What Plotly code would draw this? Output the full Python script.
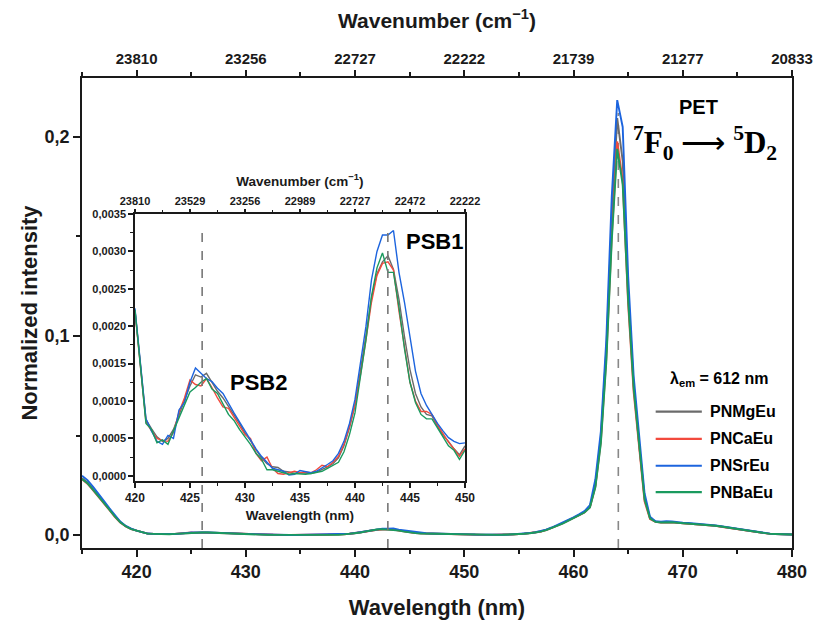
import numpy as np
import plotly.graph_objects as go

# Excitation wavelength grid (nm), 0.5 nm steps
wavelength = np.round(np.arange(415.0, 480.01, 0.5), 1)

# Normalized excitation intensities, lambda_em = 612 nm
pnmgeu = [
    0.0286, 0.0264, 0.0232, 0.0200, 0.0166, 0.0131, 0.0096, 0.0066, 0.0045, 0.0031,
    0.00222, 0.00150, 0.00075, 0.00063, 0.00052, 0.00046, 0.00050, 0.00062, 0.00082, 0.00100,
    0.00120, 0.00135, 0.00132, 0.00137, 0.00124, 0.00113, 0.00104, 0.00093, 0.00082, 0.00070,
    0.00057, 0.00047, 0.00035, 0.00024, 0.00016, 0.00012, 0.00011, 0.00006, 0.00005, 0.00003,
    0.00004, 0.00003, 0.00003, 0.00005, 0.00008, 0.00012, 0.00016, 0.00024, 0.00040, 0.00064,
    0.00094, 0.00138, 0.00188, 0.00238, 0.00270, 0.00286, 0.00294, 0.00276, 0.00236, 0.00186,
    0.00142, 0.00110, 0.00092, 0.00082, 0.00080, 0.00066, 0.00054, 0.00046, 0.00036, 0.00028,
    0.00040, 0.00030, 0.00022, 0.00016, 0.00012, 0.00010, 0.00010, 0.00012, 0.00020, 0.00030,
    0.00048, 0.00068, 0.00095, 0.0013, 0.0018, 0.0026, 0.0036, 0.0048, 0.0060, 0.0073,
    0.0086, 0.0100, 0.0116, 0.0142, 0.0250, 0.0490, 0.0930, 0.1580, 0.2095, 0.1880,
    0.1220, 0.0760, 0.0460, 0.0190, 0.0086, 0.0068, 0.0064, 0.0066, 0.0065, 0.0062,
    0.0060, 0.0059, 0.0058, 0.0056, 0.0054, 0.0051, 0.0047, 0.0043, 0.0039, 0.0035,
    0.0031, 0.0027, 0.0022, 0.0017, 0.0012, 0.0008, 0.0006, 0.0005, 0.0004, 0.0004,
    0.0003,
]
pncaeu = [
    0.0280, 0.0258, 0.0226, 0.0194, 0.0160, 0.0126, 0.0092, 0.0063, 0.0043, 0.0030,
    0.00220, 0.00145, 0.00072, 0.00060, 0.00050, 0.00047, 0.00046, 0.00058, 0.00085, 0.00104,
    0.00128, 0.00122, 0.00120, 0.00130, 0.00118, 0.00104, 0.00092, 0.00090, 0.00078, 0.00066,
    0.00055, 0.00050, 0.00030, 0.00020, 0.00025, 0.00010, 0.00003, 0.00002, 0.00004, 0.00006,
    0.00004, 0.00005, 0.00004, 0.00008, 0.00014, 0.00012, 0.00018, 0.00026, 0.00042, 0.00066,
    0.00095, 0.00135, 0.00182, 0.00232, 0.00268, 0.00284, 0.00286, 0.00275, 0.00220, 0.00175,
    0.00125, 0.00100, 0.00086, 0.00086, 0.00082, 0.00068, 0.00056, 0.00045, 0.00036, 0.00026,
    0.00036, 0.00028, 0.00020, 0.00015, 0.00011, 0.00010, 0.00011, 0.00013, 0.00019, 0.00029,
    0.00046, 0.00066, 0.00092, 0.0013, 0.0018, 0.0025, 0.0035, 0.0047, 0.0059, 0.0072,
    0.0085, 0.0098, 0.0114, 0.0140, 0.0245, 0.0470, 0.0890, 0.1500, 0.1977, 0.1780,
    0.1160, 0.0720, 0.0430, 0.0170, 0.0080, 0.0066, 0.0063, 0.0065, 0.0064, 0.0061,
    0.0059, 0.0058, 0.0057, 0.0055, 0.0053, 0.0050, 0.0046, 0.0042, 0.0038, 0.0034,
    0.0030, 0.0026, 0.0021, 0.0016, 0.0012, 0.0008, 0.0006, 0.0005, 0.0004, 0.0004,
    0.0003,
]
pnsreu = [
    0.0298, 0.0276, 0.0244, 0.0210, 0.0172, 0.0135, 0.0099, 0.0068, 0.0046, 0.0032,
    0.00224, 0.00150, 0.00076, 0.00060, 0.00046, 0.00042, 0.00054, 0.00050, 0.00088, 0.00098,
    0.00125, 0.00144, 0.00137, 0.00130, 0.00126, 0.00117, 0.00110, 0.00096, 0.00084, 0.00072,
    0.00060, 0.00048, 0.00036, 0.00026, 0.00018, 0.00010, 0.00008, 0.00006, 0.00001, 0.00002,
    0.00007, 0.00005, 0.00004, 0.00006, 0.00010, 0.00015, 0.00020, 0.00030, 0.00046, 0.00070,
    0.00102, 0.00150, 0.00200, 0.00262, 0.00300, 0.00322, 0.00322, 0.00328, 0.00272, 0.00232,
    0.00186, 0.00140, 0.00110, 0.00094, 0.00082, 0.00070, 0.00060, 0.00051, 0.00046, 0.00043,
    0.00044, 0.00034, 0.00025, 0.00018, 0.00013, 0.00011, 0.00011, 0.00014, 0.00022, 0.00033,
    0.00052, 0.00072, 0.00100, 0.0014, 0.0019, 0.0027, 0.0038, 0.0050, 0.0063, 0.0076,
    0.0089, 0.0104, 0.0120, 0.0150, 0.0280, 0.0520, 0.0980, 0.1700, 0.2185, 0.2050,
    0.1300, 0.0800, 0.0500, 0.0210, 0.0092, 0.0070, 0.0067, 0.0070, 0.0068, 0.0064,
    0.0062, 0.0061, 0.0059, 0.0057, 0.0055, 0.0052, 0.0048, 0.0044, 0.0040, 0.0036,
    0.0032, 0.0028, 0.0023, 0.0018, 0.0013, 0.0009, 0.0007, 0.0005, 0.0004, 0.0004,
    0.0003,
]
pnbaeu = [
    0.0282, 0.0260, 0.0228, 0.0196, 0.0162, 0.0128, 0.0094, 0.0064, 0.0044, 0.0030,
    0.00222, 0.00148, 0.00070, 0.00062, 0.00044, 0.00048, 0.00042, 0.00060, 0.00078, 0.00096,
    0.00112, 0.00118, 0.00125, 0.00130, 0.00116, 0.00110, 0.00096, 0.00082, 0.00074, 0.00062,
    0.00052, 0.00042, 0.00030, 0.00022, 0.00008, 0.00008, 0.00006, 0.00004, 0.00002, 0.00003,
    0.00002, 0.00002, 0.00003, 0.00004, 0.00006, 0.00010, 0.00014, 0.00018, 0.00032, 0.00055,
    0.00084, 0.00130, 0.00182, 0.00240, 0.00278, 0.00298, 0.00272, 0.00272, 0.00225, 0.00170,
    0.00125, 0.00098, 0.00082, 0.00076, 0.00076, 0.00064, 0.00052, 0.00040, 0.00034, 0.00022,
    0.00034, 0.00027, 0.00020, 0.00015, 0.00011, 0.00009, 0.00010, 0.00012, 0.00019, 0.00028,
    0.00045, 0.00065, 0.00090, 0.0012, 0.0017, 0.0025, 0.0035, 0.0046, 0.0058, 0.0071,
    0.0084, 0.0098, 0.0113, 0.0138, 0.0240, 0.0460, 0.0870, 0.1480, 0.1940, 0.1760,
    0.1180, 0.0740, 0.0440, 0.0180, 0.0084, 0.0066, 0.0063, 0.0065, 0.0064, 0.0062,
    0.0060, 0.0059, 0.0058, 0.0056, 0.0054, 0.0051, 0.0047, 0.0043, 0.0039, 0.0035,
    0.0031, 0.0027, 0.0022, 0.0017, 0.0012, 0.0008, 0.0006, 0.0005, 0.0004, 0.0004,
    0.0003,
]

series_names = ["PNMgEu", "PNCaEu", "PNSrEu", "PNBaEu"]
series_values = [pnmgeu, pncaeu, pnsreu, pnbaeu]
series_colors = ["#6b6b6b", "#f24a3d", "#1c64de", "#1a9a5e"]

# Axis ticks: wavelength (nm) and the matching wavenumber labels (cm-1)
main_ticks = [420, 430, 440, 450, 460, 470, 480]
main_wavenumber_labels = ["23810", "23256", "22727", "22222", "21739", "21277", "20833"]
inset_ticks = [420, 425, 430, 435, 440, 445, 450]
inset_wavenumber_labels = ["23810", "23529", "23256", "22989", "22727", "22472", "22222"]
inset_y_ticks = [0.0, 0.0005, 0.0010, 0.0015, 0.0020, 0.0025, 0.0030, 0.0035]

# Marked band positions (nm)
psb_positions = [426, 443]
pet_position = 464.1

FONT = "Liberation Sans"
INK = "#1a1a1a"

fig = go.Figure()

wl = np.asarray(wavelength)
inset_mask = (wl >= 420) & (wl <= 450)

for name, vals, col in zip(series_names, series_values, series_colors):
    v = np.asarray(vals)
    fig.add_trace(go.Scatter(
        x=wl, y=v, mode="lines", name=name,
        line=dict(color=col, width=1.9), xaxis="x", yaxis="y", showlegend=False,
    ))
for name, vals, col in zip(series_names, series_values, series_colors):
    v = np.asarray(vals)
    fig.add_trace(go.Scatter(
        x=wl[inset_mask], y=v[inset_mask], mode="lines", name=name,
        line=dict(color=col, width=1.4), xaxis="x3", yaxis="y3", showlegend=False,
    ))

# empty carriers so the wavenumber (top) axes are drawn
fig.add_trace(go.Scatter(x=main_ticks, y=[None] * len(main_ticks), xaxis="x2", yaxis="y",
                         showlegend=False, hoverinfo="skip", mode="lines"))
fig.add_trace(go.Scatter(x=inset_ticks, y=[None] * len(inset_ticks), xaxis="x4", yaxis="y3",
                         showlegend=False, hoverinfo="skip", mode="lines"))

axis_common = dict(showline=True, linecolor=INK, linewidth=1.5, ticks="outside",
                   tickcolor=INK, tickwidth=1.5, showgrid=False, zeroline=False,
                   automargin=False)

inset_dom_x = [0.0746, 0.5394]
inset_dom_y = [0.1426, 0.7106]

fig.update_layout(
    width=816, height=621,
    margin=dict(l=82, r=24, t=78, b=73),
    paper_bgcolor="white", plot_bgcolor="white",
    separators=",.",
    font=dict(family=FONT, color=INK),
    showlegend=False,
    xaxis=dict(
        **axis_common, domain=[0, 1], anchor="y", range=[415, 480],
        tickmode="array", tickvals=main_ticks, ticklen=7,
        minor=dict(dtick=5, tick0=415, ticks="outside", ticklen=4, tickcolor=INK, tickwidth=1.5),
        tickfont=dict(size=18, weight="bold"),
        title=dict(text="Wavelength (nm)", font=dict(size=22, weight="bold"), standoff=18),
    ),
    xaxis2=dict(
        **axis_common, overlaying="x", anchor="y", side="top", range=[415, 480],
        tickmode="array", tickvals=main_ticks, ticktext=main_wavenumber_labels, ticklen=6,
        minor=dict(dtick=5, tick0=415, ticks="outside", ticklen=4, tickcolor=INK, tickwidth=1.5),
        tickfont=dict(size=15, weight="bold"),
        title=dict(text="Wavenumber (cm<sup>−1</sup>)", font=dict(size=21, weight="bold"), standoff=16),
    ),
    yaxis=dict(
        **axis_common, domain=[0, 1], anchor="x", range=[-0.0065, 0.2296], mirror=True,
        tickmode="array", tickvals=[0, 0.1, 0.2], tickformat=".1f", ticklen=7,
        minor=dict(dtick=0.05, tick0=0, ticks="outside", ticklen=4, tickcolor=INK, tickwidth=1.5),
        tickfont=dict(size=18, weight="bold"),
        title=dict(text="Normalized intensity", font=dict(size=22, weight="bold"), standoff=1),
    ),
    xaxis3=dict(
        **axis_common, domain=inset_dom_x, anchor="y3", range=[420, 450],
        tickmode="array", tickvals=inset_ticks, ticklen=5,
        minor=dict(dtick=2.5, tick0=420, ticks="outside", ticklen=3, tickcolor=INK, tickwidth=1.2),
        tickfont=dict(size=12, weight="bold"),
        title=dict(text="Wavelength (nm)", font=dict(size=13.5, weight="bold"), standoff=6),
    ),
    xaxis4=dict(
        **axis_common, domain=inset_dom_x, overlaying="x3", anchor="y3", side="top", range=[420, 450],
        tickmode="array", tickvals=inset_ticks, ticktext=inset_wavenumber_labels, ticklen=3,
        minor=dict(dtick=2.5, tick0=420, ticks="outside", ticklen=2, tickcolor=INK, tickwidth=1.2),
        tickfont=dict(size=11, weight="bold"),
        title=dict(text="Wavenumber (cm<sup>−1</sup>)", font=dict(size=13.5, weight="bold"), standoff=5),
    ),
    yaxis3=dict(
        **axis_common, domain=inset_dom_y, anchor="x3", range=[-0.00007, 0.0035], mirror=True,
        tickmode="array", tickvals=inset_y_ticks, tickformat=".4f", ticklen=5,
        minor=dict(dtick=0.00025, tick0=0, ticks="outside", ticklen=3, tickcolor=INK, tickwidth=1.2),
        tickfont=dict(size=11, weight="bold"),
    ),
)

# dashed markers of the phonon sidebands and the pure electronic transition
for xp in psb_positions:
    fig.add_shape(type="line", xref="x", yref="paper", x0=xp, x1=xp, y0=0, y1=0.687,
                  line=dict(color="#777777", width=1.6, dash="dash"), layer="above")
fig.add_shape(type="line", xref="x", yref="y", x0=pet_position, x1=pet_position,
              y0=-0.0065, y1=0.212, line=dict(color="#888888", width=1.6, dash="dash"), layer="below")

# legend block (paper coordinates): excitation note, then one sample line per sample
legend_x0, legend_x1, legend_text_x = 0.808, 0.873, 0.882
legend_rows = [0.290, 0.232, 0.175, 0.119]
for name, col, yr in zip(series_names, series_colors, legend_rows):
    fig.add_shape(type="line", xref="paper", yref="paper", x0=legend_x0, x1=legend_x1,
                  y0=yr, y1=yr, line=dict(color=col, width=2.2))
    fig.add_annotation(x=legend_text_x, y=yr, xref="paper", yref="paper", text=name,
                       showarrow=False, xanchor="left", yanchor="middle",
                       font=dict(size=16, weight="bold", color="black"))
fig.add_annotation(x=0.897, y=0.359, xref="paper", yref="paper", xanchor="center",
                   text="λ<sub>em</sub> = 612 nm", showarrow=False,
                   font=dict(size=16, weight="bold", color="black"))

# band labels
fig.add_annotation(x=447.2, y=0.00313, xref="x3", yref="y3", text="PSB1", showarrow=False,
                   xanchor="center", font=dict(size=22, weight="bold", color="black"))
fig.add_annotation(x=431.2, y=0.00125, xref="x3", yref="y3", text="PSB2", showarrow=False,
                   xanchor="center", font=dict(size=22, weight="bold", color="black"))
fig.add_annotation(x=471.4, y=0.2151, xref="x", yref="y", text="PET", showarrow=False,
                   xanchor="center", font=dict(size=20, weight="bold", color="black"))
fig.add_annotation(x=472.0, y=0.197, xref="x", yref="y", xanchor="center",
                   text="<sup>7</sup>F<sub>0</sub> <span style='font-weight:normal'>⟶</span> "
                        "<sup>5</sup>D<sub>2</sub>",
                   showarrow=False,
                   font=dict(family="Liberation Serif", size=31, weight="bold", color="black"))

fig.write_html("out.html")
